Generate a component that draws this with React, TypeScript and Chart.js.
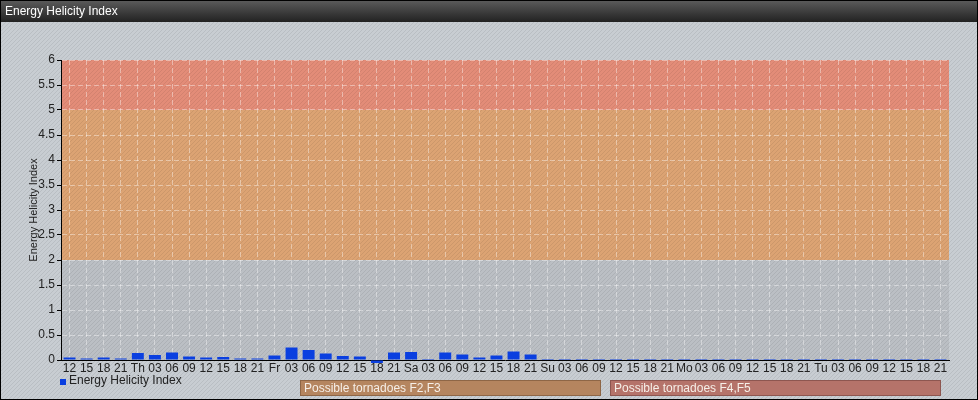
import React, { useEffect, useRef } from 'react';
import { Chart, registerables } from 'chart.js';

Chart.register(...registerables);

const chartTitle = 'Energy Helicity Index';
const seriesName = 'Energy Helicity Index';

const categories = [
  '12', '15', '18', '21',
  'Th', '03', '06', '09', '12', '15', '18', '21',
  'Fr', '03', '06', '09', '12', '15', '18', '21',
  'Sa', '03', '06', '09', '12', '15', '18', '21',
  'Su', '03', '06', '09', '12', '15', '18', '21',
  'Mo', '03', '06', '09', '12', '15', '18', '21',
  'Tu', '03', '06', '09', '12', '15', '18', '21',
];

const helicity = [
  0.05, 0.03, 0.05, 0.03,
  0.14, 0.1, 0.15, 0.07, 0.05, 0.06, 0.03, 0.03,
  0.09, 0.25, 0.2, 0.13, 0.08, 0.07, -0.06, 0.15,
  0.16, 0.02, 0.15, 0.11, 0.05, 0.09, 0.17, 0.11,
  0.02, 0.02, 0.02, 0.02, 0.02, 0.02, 0.02, 0.02,
  0.02, 0.02, 0.02, 0.02, 0.02, 0.02, 0.02, 0.02,
  0.02, 0.02, 0.02, 0.02, 0.02, 0.02, 0.02, 0.02,
];

const bandFrom = [2, 5];
const bandTo = [5, 6];
const bandLabels = ['Possible tornadoes F2,F3', 'Possible tornadoes F4,F5'];
const bandColors = ['#dca373', '#e38c78'];
const bandBoxFill = ['#b5855f', '#b5736a'];
const bandBoxStroke = ['#8e6646', '#8d5650'];

const yMin = 0;
const yMax = 6;
const yStep = 0.5;

const FONT = '"Liberation Sans", Arial, sans-serif';

function makePattern(ctx: CanvasRenderingContext2D) {
  const c = document.createElement('canvas');
  c.width = 4;
  c.height = 4;
  const p = c.getContext('2d')!;
  p.strokeStyle = 'rgba(0,0,0,0.07)';
  p.lineWidth = 1;
  p.beginPath();
  p.moveTo(0, 4);
  p.lineTo(4, 0);
  p.moveTo(-1, 1);
  p.lineTo(1, -1);
  p.moveTo(3, 5);
  p.lineTo(5, 3);
  p.stroke();
  return ctx.createPattern(c, 'repeat');
}

const decorPlugin = {
  id: 'decor',
  beforeDraw(chart: any) {
    const { ctx, chartArea, width, height } = chart;
    const y = chart.scales.y;
    ctx.save();
    ctx.fillStyle = '#c8cdd2';
    ctx.fillRect(0, 0, width, height);
    ctx.fillStyle = '#bbbfc4';
    ctx.fillRect(chartArea.left, chartArea.top, chartArea.right - chartArea.left, chartArea.bottom - chartArea.top);
    for (let i = 0; i < bandFrom.length; i++) {
      const top = y.getPixelForValue(bandTo[i]);
      const bot = y.getPixelForValue(bandFrom[i]);
      ctx.fillStyle = bandColors[i];
      ctx.fillRect(chartArea.left, top, chartArea.right - chartArea.left, bot - top);
    }
    const pat = makePattern(ctx);
    if (pat) {
      ctx.fillStyle = pat;
      ctx.fillRect(0, 0, width, height);
    }
    const g = ctx.createLinearGradient(0, 0, 0, 22);
    g.addColorStop(0, '#5c5c5c');
    g.addColorStop(1, '#222222');
    ctx.fillStyle = g;
    ctx.fillRect(0, 0, width, 22);
    ctx.fillStyle = '#ffffff';
    ctx.font = '12px ' + FONT;
    ctx.textBaseline = 'middle';
    ctx.textAlign = 'left';
    ctx.fillText(chartTitle, 5, 12);
    ctx.restore();
  },
  afterDraw(chart: any) {
    const { ctx, width, height } = chart;
    ctx.save();
    ctx.fillStyle = '#0a3fe0';
    ctx.fillRect(60, 379, 6, 6);
    ctx.fillStyle = '#222222';
    ctx.font = '12px ' + FONT;
    ctx.textBaseline = 'middle';
    ctx.textAlign = 'left';
    ctx.fillText(seriesName, 69, 381);
    const boxes = [
      [300, 600],
      [610, 940],
    ];
    for (let i = 0; i < bandLabels.length; i++) {
      const [x0, x1] = boxes[i];
      ctx.fillStyle = bandBoxFill[i];
      ctx.fillRect(x0 + 0.5, 380.5, x1 - x0, 15);
      ctx.strokeStyle = bandBoxStroke[i];
      ctx.lineWidth = 1;
      ctx.strokeRect(x0 + 0.5, 380.5, x1 - x0, 15);
      ctx.fillStyle = '#f6efe8';
      ctx.fillText(bandLabels[i], x0 + 4, 388.5);
    }
    ctx.strokeStyle = '#000000';
    ctx.lineWidth = 1;
    ctx.strokeRect(0.5, 0.5, width - 1, height - 1);
    ctx.restore();
  },
};

export default function App() {
  const ref = useRef<HTMLCanvasElement | null>(null);
  useEffect(() => {
    document.body.style.margin = '0';
    const canvas = ref.current!;
    const chart = new Chart(canvas, {
      type: 'bar',
      data: {
        labels: categories,
        datasets: [
          {
            label: seriesName,
            data: helicity,
            backgroundColor: '#0a3fe0',
            borderWidth: 0,
            barPercentage: 0.7,
            categoryPercentage: 1,
            clip: false as any,
          },
        ],
      },
      options: {
        animation: false,
        responsive: false,
        maintainAspectRatio: false,
        layout: { padding: { left: 0, right: 29, top: 60, bottom: 20 } },
        plugins: {
          legend: { display: false },
          tooltip: { enabled: false },
          title: { display: false },
        },
        scales: {
          x: {
            type: 'category',
            offset: true,
            afterFit(s: any) {
              s.height = 20;
            },
            grid: {
              offset: false,
              color: 'rgba(255,255,255,0.4)',
              drawTicks: false,
            } as any,
            border: { display: true, color: '#000000', width: 1, dash: [5, 3] } as any,
            ticks: {
              autoSkip: false,
              maxRotation: 0,
              minRotation: 0,
              padding: 1,
              color: '#222222',
              font: { family: FONT, size: 12 },
            },
          },
          y: {
            min: yMin,
            max: yMax,
            afterFit(s: any) {
              s.width = 61;
            },
            grid: {
              color: 'rgba(255,255,255,0.4)',
              tickColor: '#000000',
              tickBorderDash: [] as any,
              tickLength: 4,
            } as any,
            border: { display: true, color: '#000000', width: 1, dash: [5, 3] } as any,
            title: {
              display: true,
              text: seriesName,
              color: '#222222',
              font: { family: FONT, size: 11 },
              padding: { top: 27, bottom: 0 } as any,
            },
            ticks: {
              stepSize: yStep,
              padding: 2,
              color: '#222222',
              font: { family: FONT, size: 12 },
              callback: (v: any) => String(v),
            },
          },
        },
      },
      plugins: [decorPlugin],
    });
    return () => chart.destroy();
  }, []);
  return (
    <div style={{ width: 978, height: 400 }}>
      <canvas ref={ref} width={978} height={400} style={{ display: 'block', width: 978, height: 400 }} />
    </div>
  );
}
